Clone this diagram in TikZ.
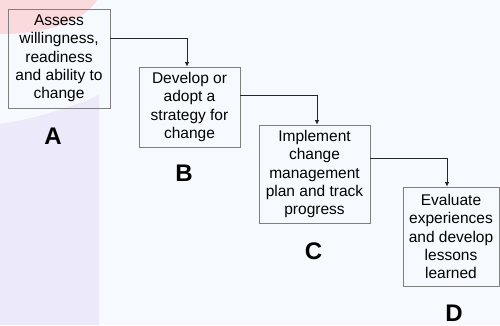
\documentclass[tikz,border=0pt]{standalone}
\usepackage{fontspec}
\setmainfont{Liberation Sans}
\usetikzlibrary{arrows.meta}
\definecolor{bgc}{HTML}{F6FAFE}
\definecolor{pinkc}{HTML}{FADADC}
\definecolor{lavc}{HTML}{ECEAFA}
\definecolor{boxgray}{HTML}{808080}
\begin{document}
\begin{tikzpicture}[x=1pt,y=-1pt,
  stagebox/.style={draw=boxgray, line width=0.8pt, align=center, inner sep=0pt,
    font=\fontsize{15.5}{18.3}\selectfont},
  stagelbl/.style={inner sep=0pt, font=\fontsize{24}{28}\selectfont\bfseries},
  conn/.style={-{Latex[length=4.5pt,width=4.5pt]}, line width=0.7pt, black!85}]
\fill[bgc] (0,0) rectangle (500,325);
\useasboundingbox (0,0) rectangle (500,325);
\fill[pinkc] (0,0) -- (97,0) .. controls (85,20) and (50,34) .. (0,34) -- cycle;
\fill[lavc] (0,124) .. controls (40,118) and (80,104) .. (99,95) -- (99,325) -- (0,325) -- cycle;

\node[stagebox, minimum width=102pt, minimum height=99pt] (A) at (59,58.5)
  {Assess\\willingness,\\readiness\\and ability to\\change};
\node[stagebox, minimum width=101pt, minimum height=80pt] (B) at (189.5,107)
  {Develop or\\adopt a\\strategy for\\change};
\node[stagebox, minimum width=111pt, minimum height=98pt] (C) at (314.5,174)
  {Implement\\change\\management\\plan and track\\progress};
\node[stagebox, minimum width=96pt, minimum height=99pt] (D) at (451,236.5)
  {Evaluate\\experiences\\and develop\\lessons\\learned};

\node[stagelbl] (la) at (53,136) {A};
\node[stagelbl] (lb) at (184,173.5) {B};
\node[stagelbl] (lc) at (313.5,251.5) {C};
\node[stagelbl] (ld) at (454,313) {D};

\draw[conn] (A.east |- {0,38}) -| ([xshift=-2.5pt]B.north);
\draw[conn] (B.east |- {0,95}) -| ([xshift=2.5pt]C.north);
\draw[conn] (C.east |- {0,158}) -| ([xshift=-4pt]D.north);
\end{tikzpicture}
\end{document}
